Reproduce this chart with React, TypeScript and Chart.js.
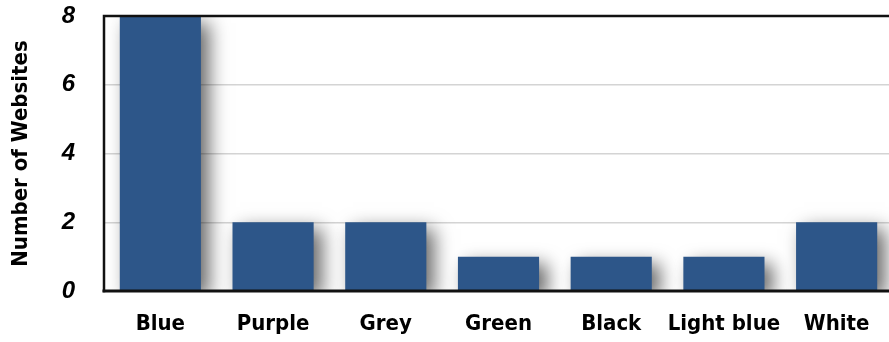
import React, { useEffect, useRef } from "react";
import { Chart, registerables } from "chart.js";

Chart.register(...registerables);

const categories = ["Blue", "Purple", "Grey", "Green", "Black", "Light blue", "White"];
const websites = [8, 2, 2, 1, 1, 1, 2];
const yTicks = [0, 2, 4, 6, 8];
const yTitle = "Number of Websites";

const narrow = "'Liberation Sans Narrow', 'DejaVu Sans Condensed', 'Arial Narrow', sans-serif";

const shadowPlugin = {
  id: "barShadow",
  beforeDatasetsDraw(chart: any) {
    const ctx = chart.ctx;
    ctx.save();
    ctx.shadowColor = "rgba(0,0,0,0.6)";
    ctx.shadowBlur = 18;
    ctx.shadowOffsetX = 8;
    ctx.shadowOffsetY = 7;
  },
  afterDatasetsDraw(chart: any) {
    chart.ctx.restore();
  },
};

const framePlugin = {
  id: "frame",
  afterDatasetsDraw(chart: any) {
    const { ctx, chartArea } = chart;
    const { left, top, bottom, right } = chartArea;
    ctx.save();
    ctx.strokeStyle = "#111";
    ctx.lineCap = "square";
    ctx.lineWidth = 2.5;
    ctx.beginPath();
    ctx.moveTo(right + 5, top);
    ctx.lineTo(left, top);
    ctx.lineTo(left, bottom);
    ctx.stroke();
    ctx.lineWidth = 3;
    ctx.beginPath();
    ctx.moveTo(left, bottom);
    ctx.lineTo(right + 5, bottom);
    ctx.stroke();
    ctx.restore();
  },
};

export default function App() {
  const ref = useRef<HTMLCanvasElement>(null);
  useEffect(() => {
    if (!ref.current) return;
    const chart = new Chart(ref.current, {
      type: "bar",
      data: {
        labels: categories,
        datasets: [
          {
            data: websites,
            backgroundColor: "#2d5689",
            borderWidth: 0,
            categoryPercentage: 1,
            barPercentage: 0.72,
          },
        ],
      },
      options: {
        animation: false,
        responsive: false,
        maintainAspectRatio: false,
        layout: { padding: 0 },
        plugins: { legend: { display: false }, tooltip: { enabled: false } },
        scales: {
          x: {
            grid: { display: false },
            border: { display: false },
            ticks: {
              color: "#000",
              padding: 12,
              maxRotation: 0,
              autoSkip: false,
              font: { family: narrow, weight: "bold", size: 22 },
            },
            afterFit: (s: any) => {
              s.height = 51;
              s.paddingLeft = 0;
              s.paddingRight = 0;
            },
          },
          y: {
            min: 0,
            max: 8,
            afterBuildTicks: (s: any) => {
              s.ticks = yTicks.map((v) => ({ value: v }));
            },
            grid: { color: "#d4d4d4", lineWidth: 1.5, drawTicks: false },
            border: { display: false },
            ticks: {
              color: "#000",
              padding: 29,
              font: { family: "'Liberation Sans', Arial, sans-serif", weight: "bold", style: "italic", size: 24 },
            },
            title: {
              display: true,
              text: yTitle,
              color: "#000",
              padding: { top: 8, bottom: 0 },
              font: { family: narrow, weight: "bold", size: 22 },
            },
            afterFit: (s: any) => {
              s.width = 104;
              s.paddingTop = 16;
              s.paddingBottom = 0;
            },
          },
        },
      },
      plugins: [shadowPlugin, framePlugin],
    });
    return () => chart.destroy();
  }, []);
  return (
    <div style={{ position: "fixed", left: 0, top: 0, width: 889, height: 342, overflow: "hidden", background: "#fff" }}>
      <canvas ref={ref} width={893} height={342} style={{ display: "block" }} />
    </div>
  );
}
